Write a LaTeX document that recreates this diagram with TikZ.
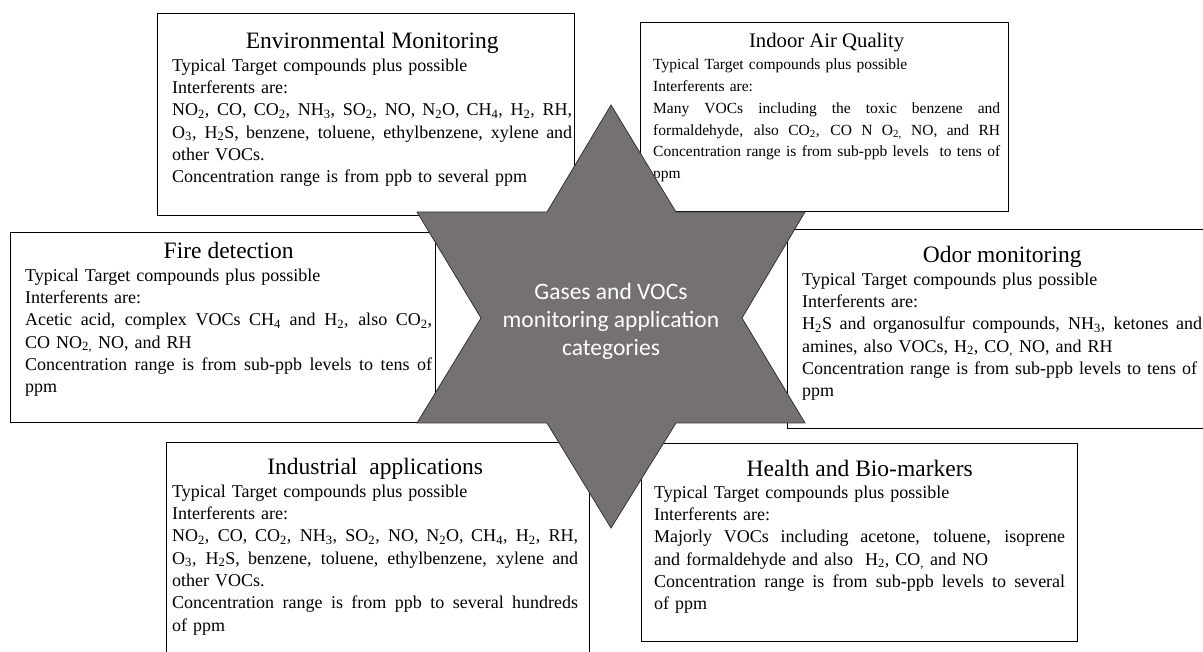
\documentclass[tikz,border=0pt]{standalone}
\usepackage{fontspec}
\setmainfont{Liberation Serif}
\newfontfamily\calibri{Carlito}

\definecolor{stargray}{RGB}{118,113,113}
\newcommand\subs[1]{\textsubscript{#1}}
\newcommand\boxtitle[2][23.5]{\makebox[\hsize]{\fontsize{#1}{26}\selectfont #2}}
\newcommand\fullline[1]{{\spaceskip=0pt\xspaceskip=0pt\makebox[\hsize][s]{#1}}}

\tikzset{
  appbox/.style={draw=black, fill=white, line width=0.8pt, inner sep=0pt, anchor=north west},
  apptext/.style={anchor=base west, align=left, inner sep=0pt, font=\fontsize{18}{22.3}\selectfont},
  starshape/.style={fill=stargray, draw=black!80, line width=0.8pt},
  hubtext/.style={text=white, align=center, font=\calibri\fontsize{23.5}{28}\selectfont},
}

\begin{document}
\begin{tikzpicture}[x=1pt, y=1pt]
    % 画布范围
    \clip (0,0) rectangle (1203,-652);

    % 六个应用类别的方框
    \node[appbox, minimum width=417pt, minimum height=202pt] (envbox) at (157,-13) {};
    \node[appbox, minimum width=368pt, minimum height=189pt] (iaqbox) at (640,-22) {};
    \node[appbox, minimum width=425pt, minimum height=190pt] (firebox) at (10,-232) {};
    \node[appbox, minimum width=430pt, minimum height=199pt] (odorbox) at (787,-229) {};
    \node[appbox, minimum width=423pt, minimum height=230pt] (indbox) at (166,-442) {};
    \node[appbox, minimum width=436pt, minimum height=198pt] (healthbox) at (641,-443) {};

    % 方框中的文字
    \node[apptext, text width=400pt] (envtext) at (172,-49) {%
        \boxtitle{Environmental Monitoring}\\
        Typical Target compounds plus possible\\
        Interferents are:\\
        \fullline{NO\subs{2}, CO, CO\subs{2}, NH\subs{3}, SO\subs{2}, NO, N\subs{2}O, CH\subs{4}, H\subs{2}, RH,}\\
        \fullline{O\subs{3}, H\subs{2}S, benzene, toluene, ethylbenzene, xylene and}\\
        other VOCs.\\
        Concentration range is from ppb to several ppm};
    \node[apptext, text width=347pt, font=\fontsize{15.5}{21.8}\selectfont] (iaqtext) at (653,-48) {%
        \boxtitle[20.7]{Indoor Air Quality}\\
        Typical Target compounds plus possible\\
        Interferents are:\\
        \fullline{Many VOCs including the toxic benzene and}\\
        \fullline{formaldehyde, also CO\subs{2}, CO N O\subs{2,} NO, and RH}\\
        \fullline{Concentration range is from sub-ppb levels\ \ to tens of}\\
        ppm};
    \node[apptext, text width=407pt] (firetext) at (25,-259) {%
        \boxtitle{Fire detection}\\
        Typical Target compounds plus possible\\
        Interferents are:\\
        \fullline{Acetic acid, complex VOCs CH\subs{4} and H\subs{2}, also CO\subs{2},}\\
        CO NO\subs{2,} NO, and RH\\
        \fullline{Concentration range is from sub-ppb levels to tens of}\\
        ppm};
    \node[apptext, text width=400pt] (odortext) at (802,-263) {%
        \boxtitle{Odor monitoring}\\
        Typical Target compounds plus possible\\
        Interferents are:\\
        \fullline{H\subs{2}S and organosulfur compounds, NH\subs{3}, ketones and}\\
        amines, also VOCs, H\subs{2}, CO\subs{,} NO, and RH\\
        Concentration range is from sub-ppb levels to tens of\\
        ppm};
    \node[apptext, text width=406pt] (indtext) at (172,-475) {%
        \boxtitle{Industrial\ \ applications}\\
        Typical Target compounds plus possible\\
        Interferents are:\\
        \fullline{NO\subs{2}, CO, CO\subs{2}, NH\subs{3}, SO\subs{2}, NO, N\subs{2}O, CH\subs{4}, H\subs{2}, RH,}\\
        \fullline{O\subs{3}, H\subs{2}S, benzene, toluene, ethylbenzene, xylene and}\\
        other VOCs.\\
        \fullline{Concentration range is from ppb to several hundreds}\\
        of ppm};
    \node[apptext, text width=411pt] (healthtext) at (654,-476) {%
        \boxtitle{Health and Bio-markers}\\
        Typical Target compounds plus possible\\
        Interferents are:\\
        \fullline{Majorly VOCs including acetone, toluene, isoprene}\\
        and formaldehyde and also\ \ H\subs{2}, CO\subs{,} and NO\\
        \fullline{Concentration range is from sub-ppb levels to several}\\
        of ppm};

    % 中间的六角星
    \draw[starshape] (611,-105) -- (676,-212) -- (805,-212) -- (742,-318)
        -- (805,-423) -- (676,-423) -- (611,-528) -- (547,-423)
        -- (417,-423) -- (481,-318) -- (417,-212) -- (547,-212) -- cycle;
    \node[hubtext] (hub) at (611,-321) {Gases and VOCs\\monitoring application\\categories};
\end{tikzpicture}
\end{document}
